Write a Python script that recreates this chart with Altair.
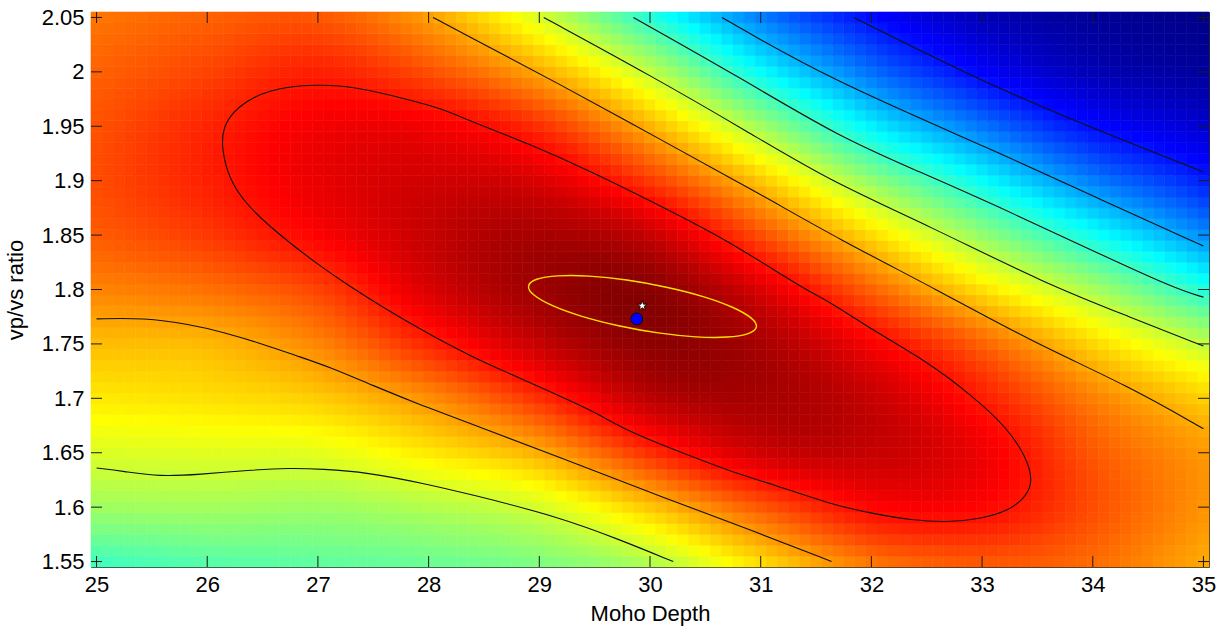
import altair as alt
import numpy as np
import pandas as pd

# ---- stack amplitude (normalised 0..1) sampled on a 1 km x 0.05 node grid ----
depth_nodes = [25, 26, 27, 28, 29, 30, 31, 32, 33, 34, 35]
vpvs_nodes = [2.05, 2.00, 1.95, 1.90, 1.85, 1.80, 1.75, 1.70, 1.65, 1.60, 1.55]
stack_rows = [
    [0.76, 0.78, 0.79, 0.72, 0.59, 0.415, 0.25, 0.135, 0.055, 0.025, 0.01],
    [0.78, 0.81, 0.845, 0.80, 0.71, 0.565, 0.38, 0.235, 0.125, 0.055, 0.03],
    [0.795, 0.84, 0.885, 0.885, 0.83, 0.70, 0.535, 0.365, 0.24, 0.135, 0.08],
    [0.80, 0.845, 0.895, 0.92, 0.91, 0.82, 0.68, 0.52, 0.38, 0.25, 0.155],
    [0.785, 0.82, 0.875, 0.93, 0.96, 0.93, 0.80, 0.66, 0.52, 0.39, 0.265],
    [0.745, 0.765, 0.81, 0.91, 0.97, 0.99, 0.91, 0.78, 0.655, 0.54, 0.41],
    [0.69, 0.695, 0.745, 0.84, 0.93, 0.985, 0.96, 0.88, 0.78, 0.665, 0.565],
    [0.645, 0.655, 0.675, 0.735, 0.83, 0.94, 0.96, 0.93, 0.85, 0.75, 0.67],
    [0.59, 0.595, 0.60, 0.645, 0.705, 0.83, 0.92, 0.93, 0.89, 0.79, 0.725],
    [0.53, 0.535, 0.53, 0.55, 0.585, 0.68, 0.79, 0.87, 0.87, 0.80, 0.73],
    [0.44, 0.46, 0.47, 0.48, 0.50, 0.55, 0.66, 0.76, 0.79, 0.77, 0.71],
]

# ---- contour lines of the stack (depth, vp/vs pairs) ----
contour_a_depth = [28.04, 28.28, 29.18, 30.09, 30.99, 31.71, 32.59, 33.43, 34.33, 35.0]
contour_a_vpvs = [2.05, 2.037, 1.989, 1.938, 1.888, 1.846, 1.800, 1.753, 1.711, 1.672]
contour_b_depth = [29.04, 30.0, 30.9, 31.62, 32.53, 33.58, 34.33, 35.0]
contour_b_vpvs = [2.05, 1.997, 1.944, 1.900, 1.858, 1.805, 1.775, 1.748]
contour_c_depth = [29.85, 30.81, 31.71, 32.44, 33.13, 33.97, 34.76, 35.0]
contour_c_vpvs = [2.05, 1.995, 1.940, 1.908, 1.877, 1.837, 1.800, 1.793]
contour_d_depth = [30.65, 31.62, 33.13, 34.06, 35.0]
contour_d_vpvs = [2.05, 1.993, 1.927, 1.883, 1.840]
contour_e_depth = [31.84, 32.82, 33.73, 35.0]
contour_e_vpvs = [2.05, 2.000, 1.959, 1.908]
contour_f_depth = [25.0, 25.43, 25.84, 26.14, 26.5, 26.81, 27.1, 27.49, 27.95, 28.37,
                   29.18, 30.09, 30.99, 31.64]
contour_f_vpvs = [1.773, 1.774, 1.768, 1.761, 1.750, 1.739, 1.729, 1.712, 1.693, 1.677,
                  1.646, 1.610, 1.576, 1.55]
contour_g_depth = [25.0, 25.24, 25.57, 25.93, 26.38, 26.74, 27.04, 27.44, 27.95, 28.37,
                   29.18, 29.73, 30.21]
contour_g_vpvs = [1.636, 1.633, 1.628, 1.630, 1.634, 1.636, 1.635, 1.632, 1.622, 1.612,
                  1.591, 1.570, 1.55]
# closed contour around the stack maximum
contour_h_depth = [26.99, 27.35, 27.8, 28.13, 28.37, 28.88, 29.48, 30.09, 30.69, 31.38,
                   31.62, 32.07, 32.53, 32.89, 33.22, 33.40, 33.46, 33.40, 33.25, 32.98,
                   32.68, 32.37, 32.01, 31.62, 31.14, 30.69, 30.24, 29.79, 29.48, 28.88,
                   28.37, 27.95, 27.58, 27.27, 27.0, 26.77, 26.54, 26.34, 26.2, 26.13,
                   26.14, 26.27, 26.54]
contour_h_vpvs = [1.989, 1.986, 1.975, 1.966, 1.955, 1.935, 1.908, 1.877, 1.846, 1.801,
                  1.789, 1.759, 1.732, 1.704, 1.674, 1.646, 1.624, 1.610, 1.597, 1.589,
                  1.586, 1.588, 1.594, 1.603, 1.620, 1.634, 1.652, 1.670, 1.689, 1.716,
                  1.739, 1.762, 1.784, 1.804, 1.823, 1.841, 1.860, 1.880, 1.901, 1.929,
                  1.950, 1.968, 1.984]

# ---- error ellipse of the best estimate ----
ellipse_depth = [30.961, 30.887, 30.696, 30.415, 30.074, 29.716, 29.385, 29.120, 28.952,
                 28.903, 28.977, 29.169, 29.450, 29.790, 30.148, 30.480, 30.744, 30.912]
ellipse_vpvs = [1.7656, 1.7595, 1.7563, 1.7565, 1.7601, 1.7667, 1.7753, 1.7851, 1.7949,
                1.8032, 1.8094, 1.8125, 1.8123, 1.8087, 1.8021, 1.7935, 1.7837, 1.7739]

best_depth, best_vpvs = [29.88], [1.773]
star_depth, star_vpvs = [29.93], [1.785]

depth_ticks = [25, 26, 27, 28, 29, 30, 31, 32, 33, 34, 35]
vpvs_ticks = [1.55, 1.6, 1.65, 1.7, 1.75, 1.8, 1.85, 1.9, 1.95, 2.0, 2.05]

# ---- stack image on the 0.1 km x 0.01 search grid ----
depth_step, vpvs_step = 0.1, 0.01
depth_grid = np.round(np.arange(25.0, 35.0 + 1e-9, depth_step), 2)
vpvs_grid = np.round(np.arange(1.55, 2.05 + 1e-9, vpvs_step), 3)


def catmull_rom(nodes, values, targets):
    nodes = np.asarray(nodes, float)
    values = np.asarray(values, float)
    order = np.argsort(nodes)
    nodes, values = nodes[order], values[order]
    padded = np.concatenate([[2 * values[0] - values[1]], values,
                             [2 * values[-1] - values[-2]]])
    h = nodes[1] - nodes[0]
    out = []
    for t in targets:
        i = int(np.floor((t - nodes[0]) / h + 1e-9))
        i = min(max(i, 0), len(nodes) - 2)
        u = (t - nodes[i]) / h
        p0, p1, p2, p3 = padded[i], padded[i + 1], padded[i + 2], padded[i + 3]
        out.append(0.5 * (2 * p1 + (-p0 + p2) * u
                          + (2 * p0 - 5 * p1 + 4 * p2 - p3) * u * u
                          + (-p0 + 3 * p1 - 3 * p2 + p3) * u ** 3))
    return np.array(out)


rows = np.array(stack_rows, float)
along_depth = np.array([catmull_rom(depth_nodes, r, depth_grid) for r in rows])
stack = np.array([catmull_rom(vpvs_nodes, along_depth[:, j], vpvs_grid)
                  for j in range(len(depth_grid))]).T  # (vpvs, depth)
stack = np.clip(stack, 0.0, 1.0)

dd, vv = np.meshgrid(depth_grid, vpvs_grid)
heat_df = pd.DataFrame({
    "depth": (dd - depth_step / 2).ravel(),
    "depth_hi": (dd + depth_step / 2).ravel(),
    "vpvs": (vv - vpvs_step / 2).ravel(),
    "vpvs_hi": (vv + vpvs_step / 2).ravel(),
    "amp": stack.ravel(),
})

open_lines = []
for name, xs, ys in [("a", contour_a_depth, contour_a_vpvs),
                     ("b", contour_b_depth, contour_b_vpvs),
                     ("c", contour_c_depth, contour_c_vpvs),
                     ("d", contour_d_depth, contour_d_vpvs),
                     ("e", contour_e_depth, contour_e_vpvs),
                     ("f", contour_f_depth, contour_f_vpvs),
                     ("g", contour_g_depth, contour_g_vpvs)]:
    for i, (x, y) in enumerate(zip(xs, ys)):
        open_lines.append({"line": name, "i": i, "depth": x, "vpvs": y})
open_df = pd.DataFrame(open_lines)
closed_df = pd.DataFrame({"i": range(len(contour_h_depth)),
                          "depth": contour_h_depth, "vpvs": contour_h_vpvs})
ellipse_df = pd.DataFrame({"i": range(len(ellipse_depth)),
                           "depth": ellipse_depth, "vpvs": ellipse_vpvs})
best_df = pd.DataFrame({"depth": best_depth, "vpvs": best_vpvs})
star_df = pd.DataFrame({"depth": star_depth, "vpvs": star_vpvs})
xt_df = pd.DataFrame({"depth": depth_ticks})
yt_df = pd.DataFrame({"vpvs": vpvs_ticks})

W, H = 1118, 555
FONT = "Liberation Sans"
xscale = alt.Scale(domain=[24.95, 35.05], nice=False, zero=False)
yscale = alt.Scale(domain=[1.545, 2.055], nice=False, zero=False)
jet = alt.Scale(domain=[0, 0.125, 0.375, 0.625, 0.875, 1.0],
                range=["#00007f", "#0000ff", "#00ffff", "#ffff00", "#ff0000", "#7f0000"],
                interpolate="rgb", clamp=True)

heat = alt.Chart(heat_df).mark_rect(strokeWidth=0.6).encode(
    x=alt.X("depth:Q", scale=xscale,
            axis=alt.Axis(values=depth_ticks, format="d", title="Moho Depth",
                          ticks=False, domain=False, grid=False,
                          labelPadding=7, titleY=36)),
    x2="depth_hi:Q",
    y=alt.Y("vpvs:Q", scale=yscale,
            axis=alt.Axis(values=vpvs_ticks, format=".2~f", title="vp/vs ratio",
                          ticks=False, domain=False, grid=False,
                          labelPadding=7, titleX=-64, titleY=H / 2)),
    y2="vpvs_hi:Q",
    color=alt.Color("amp:Q", scale=jet, legend=None),
    stroke=alt.Stroke("amp:Q", scale=jet, legend=None),
)

lines_open = alt.Chart(open_df).mark_line(
    color="#111111", strokeWidth=1.1, interpolate="basis").encode(
    x="depth:Q", y="vpvs:Q", detail="line:N", order="i:Q")
line_closed = alt.Chart(closed_df).mark_line(
    color="#111111", strokeWidth=1.1, interpolate="basis-closed").encode(
    x="depth:Q", y="vpvs:Q", order="i:Q")
ellipse = alt.Chart(ellipse_df).mark_line(
    color="#ffe000", strokeWidth=1.4, interpolate="cardinal-closed").encode(
    x="depth:Q", y="vpvs:Q", order="i:Q")
best = alt.Chart(best_df).mark_point(
    shape="circle", filled=True, fill="#0000ff", stroke="#000000",
    strokeWidth=1, size=140, opacity=1).encode(x="depth:Q", y="vpvs:Q")
STAR = ("M0,-1L0.2245,-0.309L0.951,-0.309L0.363,0.118L0.588,0.809L0,0.382"
        "L-0.588,0.809L-0.363,0.118L-0.951,-0.309L-0.2245,-0.309Z")
star = alt.Chart(star_df).mark_point(
    shape=STAR, filled=True, fill="#ffffff", stroke="#000000",
    strokeWidth=0.8, size=110, opacity=1).encode(x="depth:Q", y="vpvs:Q")

TICK = 11
tick_style = dict(color="#1a1a1a", strokeWidth=1)
ticks_bottom = alt.Chart(xt_df).mark_rule(**tick_style).encode(
    x="depth:Q", y=alt.value(H), y2=alt.value(H - TICK))
ticks_top = alt.Chart(xt_df).mark_rule(**tick_style).encode(
    x="depth:Q", y=alt.value(0), y2=alt.value(TICK))
ticks_left = alt.Chart(yt_df).mark_rule(**tick_style).encode(
    y="vpvs:Q", x=alt.value(0), x2=alt.value(TICK))
ticks_right = alt.Chart(yt_df).mark_rule(**tick_style).encode(
    y="vpvs:Q", x=alt.value(W), x2=alt.value(W - TICK))

chart = alt.layer(
    heat, lines_open, line_closed, ellipse, best, star,
    ticks_bottom, ticks_top, ticks_left, ticks_right,
).properties(
    width=W, height=H,
    autosize=alt.AutoSizeParams(type="none"),
    padding={"left": 91, "top": 12, "right": 14, "bottom": 61},
    background="white",
).configure_view(
    stroke="#2a2a2a", strokeWidth=1,
).configure_axis(
    labelFont=FONT, titleFont=FONT, labelFontSize=22, titleFontSize=22,
    labelColor="#000000", titleColor="#000000", titleFontWeight="normal",
)

chart.save("out.html", embed_options={"renderer": "svg", "actions": False})
